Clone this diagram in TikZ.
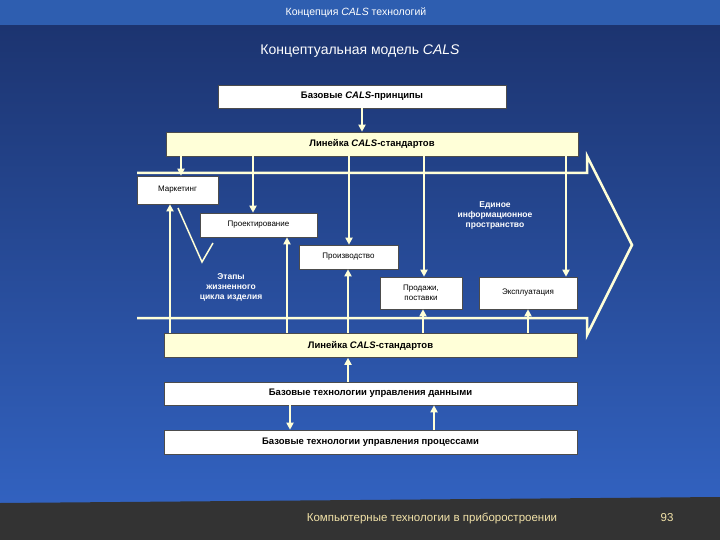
\documentclass[tikz,border=0pt]{standalone}
\usepackage{fontspec}
\setmainfont{Liberation Sans}
\usetikzlibrary{arrows.meta}
\definecolor{navy}{HTML}{1C3470}
\definecolor{bluebot}{HTML}{3262C0}
\definecolor{barblue}{HTML}{2E5EB0}
\definecolor{pale}{HTML}{FFFFD8}
\definecolor{foot}{HTML}{333333}
\definecolor{foottxt}{HTML}{F2E2A8}
\tikzset{
  box/.style={draw=black!70,line width=0.6pt,fill=white,inner sep=0pt,font=\fontsize{8}{9.5}\selectfont,align=center},
  rule/.style={box,fill=pale,font=\bfseries\fontsize{9.5}{11}\selectfont},
  base/.style={box,font=\bfseries\fontsize{9.5}{11}\selectfont},
  arr/.style={draw=pale,line width=2pt,-{Triangle[length=7pt,width=7pt]}},
  big/.style={draw=pale,line width=2.5pt,line join=miter},
  wtxt/.style={text=white,font=\bfseries\fontsize{8.5}{10}\selectfont,align=center}
}
\begin{document}
\begin{tikzpicture}[x=1pt,y=-1pt]
\useasboundingbox (0,0) rectangle (720,540);
\shade[top color=navy,bottom color=bluebot] (0,25) rectangle (720,505);
\fill[barblue] (0,0) rectangle (720,25);
\fill[foot] (0,540) -- (0,503) -- (720,497) -- (720,540) -- cycle;
\node[text=white,font=\fontsize{10.5}{12}\selectfont] (t1) at (356,13) {Концепция \textit{CALS} технологий};
\node[text=white,font=\fontsize{14}{16}\selectfont] (t2) at (360,51) {Концептуальная модель \textit{CALS}};
\node[text=foottxt,font=\fontsize{11.5}{13}\selectfont] (f1) at (432,518) {Компьютерные технологии в приборостроении};
\node[text=foottxt,font=\fontsize{11.5}{13}\selectfont] (f2) at (667,518) {93};

% big arrow
\draw[big] (137,173) -- (587,173) -- (587,156) -- (632,245) -- (587,335) -- (587,318) -- (137,318);

\node[base,minimum width=288,minimum height=23] (p) at (362,96.5) {Базовые \textit{CALS}-принципы};
\node[rule,minimum width=412,minimum height=24] (r1) at (372,144) {Линейка \textit{CALS}-стандартов};
\node[rule,minimum width=413,minimum height=24] (r2) at (370.5,345.5) {Линейка \textit{CALS}-стандартов};
\node[base,minimum width=413,minimum height=23] (d) at (370.5,393.5) {Базовые технологии управления данными};
\node[base,minimum width=413,minimum height=24] (pr) at (370.5,442) {Базовые технологии управления процессами};

\node[box,minimum width=81,minimum height=28] (m) at (177.5,190) {Маркетинг};
\node[box,minimum width=117,minimum height=24] (k) at (258.5,225) {Проектирование};
\node[box,minimum width=99,minimum height=24] (pz) at (348.5,257) {Производство};
\node[box,minimum width=82,minimum height=32] (s) at (421,293) {Продажи,\\поставки};
\node[box,minimum width=98,minimum height=32] (e) at (528,293) {Эксплуатация};

\node[wtxt] (ei) at (495,215) {Единое\\информационное\\пространство};
\node[wtxt] (et) at (231,287) {Этапы\\жизненного\\цикла изделия};
\coordinate (v1) at (178,208); \coordinate (v2) at (202,262); \coordinate (v3) at (213,243);
\draw[pale,line width=1.5pt] (v1) -- (v2) -- (v3);

\draw[arr] (p.south -| 362,0) -- (r1.north -| 362,0);
\draw[arr] (r1.south -| 181,0) -- (m.north -| 181,0);
\draw[arr] (r1.south -| 253,0) -- (k.north -| 253,0);
\draw[arr] (r1.south -| 349,0) -- (pz.north -| 349,0);
\draw[arr] (r1.south -| 424,0) -- (s.north -| 424,0);
\draw[arr] (r1.south -| 566,0) -- (e.north -| 566,0);

\draw[arr] (r2.north -| 170,0) -- (m.south -| 170,0);
\draw[arr] (r2.north -| 287,0) -- (k.south -| 287,0);
\draw[arr] (r2.north -| 348,0) -- (pz.south -| 348,0);
\draw[arr] (r2.north -| 423,0) -- (s.south -| 423,0);
\draw[arr] (r2.north -| 528,0) -- (e.south -| 528,0);

\draw[arr] (d.north -| 348,0) -- (r2.south -| 348,0);
\draw[arr] (d.south -| 290,0) -- (pr.north -| 290,0);
\draw[arr] (pr.north -| 434,0) -- (d.south -| 434,0);
\end{tikzpicture}
\end{document}
